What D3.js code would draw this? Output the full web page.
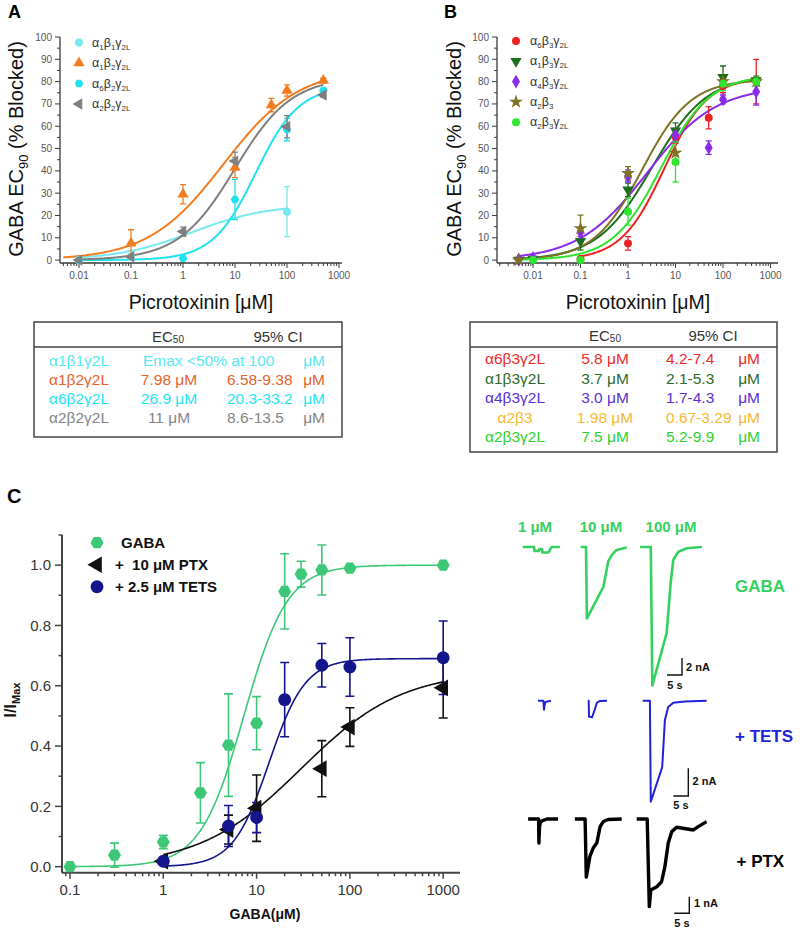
<!DOCTYPE html>
<html><head><meta charset="utf-8">
<script src="https://cdn.jsdelivr.net/npm/d3@7"></script>
<style>body{margin:0;background:#fff}svg{display:block}</style>
</head><body><svg id="chart" width="800" height="928"></svg>
<script>
// ================= DATA =================
// Panel A: [concentration µM, % blocked, error]
const A_a1b1g2L = [[0.01,0,0],[0.1,1.5,0],[100,21.7,11.2]];
const A_a1b2g2L = [[0.1,7.6,6],[1,29.5,4.3],[10,41.5,4.5],[50,69.5,3],[100,76,2.5],[500,80.5,1]];
const A_a6b2g2L = [[0.01,0,0],[1,0.8,0],[10,27.2,9],[100,58.5,5],[500,76,1]];
const A_a2b2g2L = [[0.01,0,0],[0.1,1.5,1],[1,12.8,2],[10,44.4,4],[100,59.8,5],[500,74,1]];
// Hill fits [top, EC50, nH, from, to]
const A_fits = [[25,1.5,0.6,0.01,100],[86,6,0.6,0.005,500],[78,25,1.05,0.01,500],[82,10,0.8,0.01,500]];
const A_names = ["α1β1γ2L","α1β2γ2L","α6β2γ2L","α2β2γ2L"];

// Panel B
const B_a6b3g2L = [[0.1,0.5,1],[1,7.5,3],[10,55.3,3],[50,63.8,5],[100,78,3],[500,80,10]];
const B_a1b3g2L = [[0.005,0,0],[0.01,0.5,0],[0.1,8.5,4],[1,31.5,3],[10,58,3.5],[100,82,5],[500,80.5,2]];
const B_a4b3g2L = [[0.005,0.3,0],[0.01,1,0],[0.1,12.5,2],[1,37.7,2.7],[10,56,3],[50,50.4,3],[100,72,2],[500,75.5,6]];
const B_a2b3    = [[0.005,0,0],[0.1,14.2,6],[1,38.9,3],[10,48,5],[100,80,3],[500,80,1]];
const B_a2b3g2L = [[0.01,0,0],[0.1,0,1],[1,21.7,6],[10,44,9],[100,79,3],[500,80,2]];
const B_fits = [[82,5.8,0.95,0.1,500],[83,3.2,0.75,0.005,500],[78,2.5,0.6,0.005,500],[81,1.98,0.85,0.005,500],[83,5,0.85,0.005,500]];
const B_names = ["α6β3γ2L","α1β3γ2L","α4β3γ2L","α2β3","α2β3γ2L"];

// Axis ticks (panels A,B)
const yTicksAB = [0,10,20,30,40,50,60,70,80,90,100];
const xTicksAB = [0.01,0.1,1,10,100,1000];
const xTickLabelsAB = ["0.01","0.1","1","10","100","1000"];

// Tables
const tabA_ec50 = ["Emax <50% at 100","7.98 μM","26.9 μM","11 μM"];
const tabA_ci   = ["","6.58-9.38","20.3-33.2","8.6-13.5"];
const tabB_ec50 = ["5.8 μM","3.7 μM","3.0 μM","1.98 μM","7.5 μM"];
const tabB_ci   = ["4.2-7.4","2.1-5.3","1.7-4.3","0.67-3.29","5.2-9.9"];

// Panel C: [GABA µM, I/Imax, error]
const C_gaba = [[0.1,0,0],[0.3,0.038,0.04],[1,0.082,0.022],[2.5,0.245,0.1],[5,0.403,0.17],[10,0.476,0.088],[20,0.913,0.125],[30,0.97,0.043],[50,0.984,0.083],[100,0.99,0],[1000,1.0,0]];
const C_ptx  = [[1,0.018,0],[5,0.123,0.048],[10,0.194,0.11],[50,0.325,0.093],[100,0.463,0.064],[1000,0.593,0.1]];
const C_tets = [[1,0.018,0],[5,0.135,0.068],[10,0.163,0.05],[20,0.554,0.123],[50,0.668,0.072],[100,0.662,0.097],[1000,0.693,0.122]];
const C_fits = [[1.0,7.3,1.86,0.1,1000],[0.65,30,0.8,1,1000],[0.69,13.6,2.24,1,1000]];
const C_labels = ["GABA","+  10 μM PTX","+ 2.5 μM TETS"];
const xTicksC = [0.1,1,10,100,1000];
const xTickLabelsC = ["0.1","1","10","100","1000"];
const yTicksC = [0,0.2,0.4,0.6,0.8,1.0];
const yTickLabelsC = ["0.0","0.2","0.4","0.6","0.8","1.0"];

// Current traces [time s, current nA]
const tr_GABA_1   = [[0.9,0],[4.7,0],[4.8,-0.45],[6.3,-0.45],[6.5,-0.25],[7.3,-0.25],[7.5,-0.65],[9.5,-0.65],[10.3,-0.1],[10.8,0],[13.3,0]];
const tr_GABA_10  = [[20.2,0],[22,0],[22.3,-8.4],[27.8,-4.7],[29.4,-1.7],[30.6,-0.95],[32.2,-0.35],[35.6,-0.05]];
const tr_GABA_100 = [[40,0],[43.6,0],[44.1,-16.3],[48.9,-10.1],[50.2,-4.3],[51.1,-1.5],[52.8,-0.55],[55.6,-0.15],[60.6,0]];
const tr_TETS_1   = [[6,0],[7.8,0],[8,-0.65],[8.2,-0.3],[8.5,-0.1],[10.3,0]];
const tr_TETS_10  = [[22.6,0],[22.9,0],[23,-1.15],[24,-1.2],[25,-0.6],[25.6,-0.15],[26.5,-0.03],[29,0]];
const tr_TETS_100 = [[40.9,0],[43.3,0],[43.6,-7.3],[47.4,-4.8],[48.3,-1.4],[49.4,-0.45],[51.1,-0.15],[55,-0.05],[62.2,0]];
const tr_PTX_1    = [[2.7,0],[6.2,0],[6.3,-1.45],[6.5,-0.5],[6.8,-0.2],[7.5,-0.1],[9,0],[12.7,0]];
const tr_PTX_10   = [[18.3,0],[21.7,0],[22.1,-3.5],[23.3,-2.25],[24.4,-1.75],[25.6,-1.45],[26.7,-0.46],[27.8,-0.15],[29.4,-0.03],[33.9,0]];
const tr_PTX_100  = [[38.9,0],[42.4,0],[43.1,-5.28],[43.6,-4.28],[45.6,-4.08],[47.2,-3.78],[48.3,-2.87],[49.4,-1.46],[50.6,-0.76],[52.2,-0.5],[57.8,-0.66],[59.4,-0.46],[62.2,-0.16]];
const traceConc = ["1 μM","10 μM","100 μM"];

// ================= DRAW =================
const F = 'Arial, "Liberation Sans", sans-serif';
const svg = d3.select("#chart");
svg.append("rect").attr("width",800).attr("height",928).attr("fill","#fff");

function hill(c,p){ return p[0]/(1+Math.pow(p[1]/c,p[2])); }
function curvePts(p){ const lo=p[3],hi=p[4]; return d3.range(0,241).map(i=>{const c=lo*Math.pow(hi/lo,i/240);return [c,hill(c,p)];}); }

// rich text with subscripts: segs = [[text, isSub],...]
function rich(t, segs, size, subSize, shift){
  let off=0;
  segs.forEach(([s,sub])=>{
    const target = sub? shift:0;
    t.append("tspan").attr("font-size",sub?subSize:size).attr("dy",target-off).text(s);
    off=target;
  });
}
function greekSegs(str){ return str.match(/[α-ωΑ-Ω]|[0-9]+L?/g).map(s=>[s,/[0-9]/.test(s)?1:0]); }

function hexPath(r){ return d3.range(6).map(i=>{const a=Math.PI/3*i;return [r*Math.cos(a),r*Math.sin(a)];}); }
function marker(g, type, x, y, size, color){
  if(type==="hex"){
    g.append("path").attr("d","M"+hexPath(size).map(p=>[x+p[0],y+p[1]].join(",")).join("L")+"Z").attr("fill",color);
    return;
  }
  const map={circle:[d3.symbolCircle,0],up:[d3.symbolTriangle,0],down:[d3.symbolTriangle,180],left:[d3.symbolTriangle,-90],diamond:[d3.symbolDiamond,0],star:[d3.symbolStar,0]};
  const [s,rot]=map[type];
  g.append("path").attr("d",d3.symbol(s,size)()).attr("transform",`translate(${x},${y}) rotate(${rot})`).attr("fill",color);
}

function logAxisX(g,x,yPos,majors,labels,o){
  const [d0,d1]=x.domain();
  g.append("line").attr("x1",x.range()[0]).attr("x2",x.range()[1]).attr("y1",yPos).attr("y2",yPos).attr("stroke",o.color).attr("stroke-width",o.w);
  for(let e=Math.floor(Math.log10(d0));e<=Math.ceil(Math.log10(d1));e++){
    for(let k=1;k<10;k++){
      const v=k*Math.pow(10,e); if(v<d0||v>d1) continue;
      g.append("line").attr("x1",x(v)).attr("x2",x(v)).attr("y1",yPos).attr("y2",yPos+(k===1?o.major:o.minor)).attr("stroke",o.color).attr("stroke-width",o.tw);
    }
  }
  majors.forEach((v,i)=>g.append("text").attr("x",x(v)).attr("y",yPos+o.labOff).attr("text-anchor","middle").attr("font-family",F).attr("font-size",o.fs).attr("fill",o.lc).text(labels[i]));
}
function linAxisY(g,y,xPos,majors,labels,minorStep,o){
  g.append("line").attr("x1",xPos).attr("x2",xPos).attr("y1",y.range()[0]).attr("y2",y.range()[1]).attr("stroke",o.color).attr("stroke-width",o.w);
  majors.forEach((v,i)=>{
    g.append("line").attr("x1",xPos-o.major).attr("x2",xPos).attr("y1",y(v)).attr("y2",y(v)).attr("stroke",o.color).attr("stroke-width",o.tw);
    g.append("text").attr("x",xPos-o.labOff).attr("y",y(v)).attr("dy","0.35em").attr("text-anchor","end").attr("font-family",F).attr("font-size",o.fs).attr("fill",o.lc).text(labels[i]);
    const m=v+minorStep;
    if(m<=y.domain()[1]+1e-9) g.append("line").attr("x1",xPos-o.minor).attr("x2",xPos).attr("y1",y(m)).attr("y2",y(m)).attr("stroke",o.color).attr("stroke-width",o.tw);
  });
}

function drawSeries(g,x,y,series,cap,sw,lw){
  const line=d3.line().x(d=>x(d[0])).y(d=>y(d[1])).curve(d3.curveLinear);
  series.forEach(s=>g.append("path").attr("d",line(curvePts(s.fit))).attr("fill","none").attr("stroke",s.color).attr("stroke-width",lw));
  series.forEach(s=>s.data.forEach(d=>{
    if(d[2]>0){
      const xx=x(d[0]),y1=y(d[1]-d[2]),y2=y(d[1]+d[2]);
      g.append("path").attr("d",`M${xx},${y1}V${y2}M${xx-cap},${y1}H${xx+cap}M${xx-cap},${y2}H${xx+cap}`).attr("stroke",s.color).attr("stroke-width",sw).attr("fill","none");
    }
  }));
  series.forEach(s=>s.data.forEach(d=>marker(g,s.sym,x(d[0]),y(d[1]),s.size,s.color)));
}

// ---------- Panel A ----------
const gA=svg.append("g");
const xA=d3.scaleLog().domain([0.00431,1142]).range([60,342]);
const yA=d3.scaleLinear().domain([-1.3,100]).range([263,37]);
const axAB={color:"#3a3a3a",w:1.3,tw:1,major:5,minor:3,labOff:16,fs:10,lc:"#555"};
logAxisX(gA,xA,263,xTicksAB,xTickLabelsAB,axAB);
linAxisY(gA,yA,60,yTicksAB,yTicksAB.map(String),5,Object.assign({},axAB,{labOff:8}));
const colA=["#78e9ef","#f47c20","#1fe2ee","#7f7f7f"];
const symA=["circle","up","hex","left"];
const dataA=[A_a1b1g2L,A_a1b2g2L,A_a6b2g2L,A_a2b2g2L];
drawSeries(gA,xA,yA,dataA.map((d,i)=>({data:d,fit:A_fits[i],color:colA[i],sym:symA[i],size:symA[i]==="hex"?4.3:(symA[i]==="circle"?50:55)})),3,1.3,2);
A_names.forEach((n,i)=>{
  const yy=42.5+i*20.5;
  marker(gA,symA[i],79,yy,symA[i]==="hex"?4.3:(symA[i]==="circle"?50:55),colA[i]);
  rich(gA.append("text").attr("x",92).attr("y",yy+4).attr("font-family",F).attr("fill","#333"),greekSegs(n),12.5,8,3);
});
gA.append("text").attr("x",8).attr("y",18).attr("font-family",F).attr("font-weight","bold").attr("font-size",18).text("A");
rich(gA.append("text").attr("transform","translate(23,149) rotate(-90)").attr("text-anchor","middle").attr("font-family",F).attr("fill","#111"),[["GABA EC",0],["90",1],[" (% Blocked)",0]],20,13,5);
gA.append("text").attr("x",201).attr("y",309).attr("text-anchor","middle").attr("font-family",F).attr("font-size",19.5).attr("fill","#111").text("Picrotoxinin [μM]");

// Table A
const tA=svg.append("g").attr("font-family",F);
tA.append("rect").attr("x",34).attr("y",322).attr("width",308).attr("height",115).attr("fill","none").attr("stroke","#444").attr("stroke-width",1.5);
tA.append("line").attr("x1",34).attr("x2",342).attr("y1",347).attr("y2",347).attr("stroke","#444").attr("stroke-width",1.3);
rich(tA.append("text").attr("x",168).attr("y",342).attr("text-anchor","middle").attr("fill","#333"),[["EC",0],["50",1]],15,10,1);
tA.append("text").attr("x",278).attr("y",342).attr("text-anchor","middle").attr("font-size",15).attr("fill","#333").text("95% CI");
const tabAcol=["#55e8f0","#e8622a","#22e5ef","#858585"];
A_names.forEach((n,i)=>{
  const yy=366+i*19.1, c=tabAcol[i];
  tA.append("text").attr("x",49).attr("y",yy).attr("font-size",15.5).attr("fill",c).text(n);
  if(tabA_ci[i]===""){
    tA.append("text").attr("x",143).attr("y",yy).attr("font-size",15.5).attr("fill",c).text(tabA_ec50[i]);
  } else {
    tA.append("text").attr("x",169).attr("y",yy).attr("text-anchor","middle").attr("font-size",15.5).attr("fill",c).text(tabA_ec50[i]);
    tA.append("text").attr("x",227).attr("y",yy).attr("font-size",15.5).attr("fill",c).text(tabA_ci[i]);
  }
  tA.append("text").attr("x",325).attr("y",yy).attr("text-anchor","end").attr("font-size",15.5).attr("fill",c).text("μM");
});

// ---------- Panel B ----------
const gB=svg.append("g");
const xB=d3.scaleLog().domain([0.001746,1438]).range([497,778]);
const yB=d3.scaleLinear().domain([-1.3,100]).range([263,37]);
logAxisX(gB,xB,263,xTicksAB,xTickLabelsAB,axAB);
linAxisY(gB,yB,497,yTicksAB,yTicksAB.map(String),5,Object.assign({},axAB,{labOff:8}));
const colB=["#ee2222","#1d6e1d","#8a2be8","#7d7322","#2ee62e"];
const symB=["circle","down","diamond","star","circle"];
const dataB=[B_a6b3g2L,B_a1b3g2L,B_a4b3g2L,B_a2b3,B_a2b3g2L];
const sizeB=[50,55,55,60,50];
drawSeries(gB,xB,yB,dataB.map((d,i)=>({data:d,fit:B_fits[i],color:colB[i],sym:symB[i],size:sizeB[i]})),3,1.3,2);
B_names.forEach((n,i)=>{
  const yy=41+i*20.3;
  marker(gB,symB[i],516,yy,sizeB[i],colB[i]);
  rich(gB.append("text").attr("x",530).attr("y",yy+4).attr("font-family",F).attr("fill","#333"),greekSegs(n),12.5,8,3);
});
gB.append("text").attr("x",444).attr("y",18).attr("font-family",F).attr("font-weight","bold").attr("font-size",18).text("B");
rich(gB.append("text").attr("transform","translate(461,149) rotate(-90)").attr("text-anchor","middle").attr("font-family",F).attr("fill","#111"),[["GABA EC",0],["90",1],[" (% Blocked)",0]],20,13,5);
gB.append("text").attr("x",638).attr("y",309).attr("text-anchor","middle").attr("font-family",F).attr("font-size",19.5).attr("fill","#111").text("Picrotoxinin [μM]");

// Table B
const tB=svg.append("g").attr("font-family",F);
tB.append("rect").attr("x",470).attr("y",322).attr("width",307).attr("height",130).attr("fill","none").attr("stroke","#444").attr("stroke-width",1.5);
tB.append("line").attr("x1",470).attr("x2",777).attr("y1",347).attr("y2",347).attr("stroke","#444").attr("stroke-width",1.3);
rich(tB.append("text").attr("x",605).attr("y",341).attr("text-anchor","middle").attr("fill","#333"),[["EC",0],["50",1]],15,10,1);
tB.append("text").attr("x",713).attr("y",341).attr("text-anchor","middle").attr("font-size",15).attr("fill","#333").text("95% CI");
const tabBcol=["#f02828","#2d6b2d","#5b2fd6","#f7b733","#2ed12e"];
B_names.forEach((n,i)=>{
  const yy=364+i*19.6, c=tabBcol[i];
  tB.append("text").attr("x",515).attr("y",yy).attr("text-anchor","middle").attr("font-size",15.5).attr("fill",c).text(n);
  tB.append("text").attr("x",605).attr("y",yy).attr("text-anchor","middle").attr("font-size",15.5).attr("fill",c).text(tabB_ec50[i]);
  tB.append("text").attr("x",666).attr("y",yy).attr("font-size",15.5).attr("fill",c).text(tabB_ci[i]);
  tB.append("text").attr("x",760).attr("y",yy).attr("text-anchor","end").attr("font-size",15.5).attr("fill",c).text("μM");
});

// ---------- Panel C ----------
const gC=svg.append("g");
const xC=d3.scaleLog().domain([0.0821,1514]).range([62,460]);
const yC=d3.scaleLinear().domain([-0.02,1.1]).range([872.7,535]);
const axC={color:"#444",w:2,tw:1.5,major:6,minor:3.5,labOff:22,fs:15,lc:"#333"};
logAxisX(gC,xC,872.7,xTicksC,xTickLabelsC,axC);
linAxisY(gC,yC,62,yTicksC,yTickLabelsC,0.1,Object.assign({},axC,{major:7,labOff:11}));
const colC=["#3dc878","#111111","#14148c"];
const symC=["hex","left","circle"];
const sizeC=[6.5,120,130];
const dataC=[C_gaba,C_ptx,C_tets];
drawSeries(gC,xC,yC,dataC.map((d,i)=>({data:d,fit:C_fits[i],color:colC[i],sym:symC[i],size:sizeC[i]})),4.5,1.6,1.6);
C_labels.forEach((t,i)=>{
  const yy=542.7+i*22;
  marker(gC,symC[i],97,yy,sizeC[i],colC[i]);
  gC.append("text").attr("x",i===0?121:115).attr("y",yy+5.5).attr("font-family",F).attr("font-weight","bold").attr("font-size",15).attr("fill","#111").attr("xml:space","preserve").text(t);
});
gC.append("text").attr("x",7).attr("y",503).attr("font-family",F).attr("font-weight","bold").attr("font-size",20).text("C");
rich(gC.append("text").attr("transform","translate(16,700) rotate(-90)").attr("text-anchor","middle").attr("font-family",F).attr("font-weight","bold").attr("fill","#111"),[["I/I",0],["Max",1]],16,11,4);
gC.append("text").attr("x",265).attr("y",919).attr("text-anchor","middle").attr("font-family",F).attr("font-weight","bold").attr("font-size",14).attr("fill","#111").text("GABA(μM)");

// ---------- Traces ----------
const gT=svg.append("g").attr("font-family",F).attr("font-weight","bold");
const tS=d3.scaleLinear().domain([0,60]).range([520,700]);
const rows=[
  {traces:[tr_GABA_1,tr_GABA_10,tr_GABA_100],c:d3.scaleLinear().domain([0,-1]).range([547,555.5]),col:"#34d160",w:2.6,label:"GABA",lx:735,ly:591.5,bar:[682,675],nA:2,bx:[686,671],sx:[675,689]},
  {traces:[tr_TETS_1,tr_TETS_10,tr_TETS_100],c:d3.scaleLinear().domain([0,-1]).range([700.7,714.55]),col:"#1f22d8",w:2,label:"+ TETS",lx:735,ly:741.5,bar:[688.3,796],nA:2,bx:[692.5,785],sx:[681,809]},
  {traces:[tr_PTX_1,tr_PTX_10,tr_PTX_100],c:d3.scaleLinear().domain([0,-1]).range([819,835.6]),col:"#000",w:3.4,label:"+ PTX",lx:736.5,ly:866.5,bar:[689.3,913.3],nA:1,bx:[694,906.5],sx:[682,927]}
];
rows.forEach(r=>{
  const line=d3.line().x(d=>tS(d[0])).y(d=>r.c(d[1]));
  r.traces.forEach(t=>gT.append("path").attr("d",line(t)).attr("fill","none").attr("stroke",r.col).attr("stroke-width",r.w).attr("stroke-linejoin","round"));
  gT.append("text").attr("x",r.lx).attr("y",r.ly).attr("font-size",17).attr("fill",r.col).text(r.label);
  const [bx,by]=r.bar, h=r.c(-r.nA)-r.c(0), w=tS(5)-tS(0);
  gT.append("path").attr("d",`M${bx},${by-h}V${by}H${bx-w}`).attr("fill","none").attr("stroke","#111").attr("stroke-width",1.4);
  gT.append("text").attr("x",r.bx[0]).attr("y",r.bx[1]).attr("font-size",11).attr("fill","#111").text(r.nA+" nA");
  gT.append("text").attr("x",r.sx[0]).attr("y",r.sx[1]).attr("text-anchor","middle").attr("font-size",11).attr("fill","#111").text("5 s");
});
traceConc.forEach((t,i)=>gT.append("text").attr("x",[535,601,671][i]).attr("y",531.5).attr("text-anchor","middle").attr("font-size",15).attr("fill","#34d160").text(t));
</script></body></html>
